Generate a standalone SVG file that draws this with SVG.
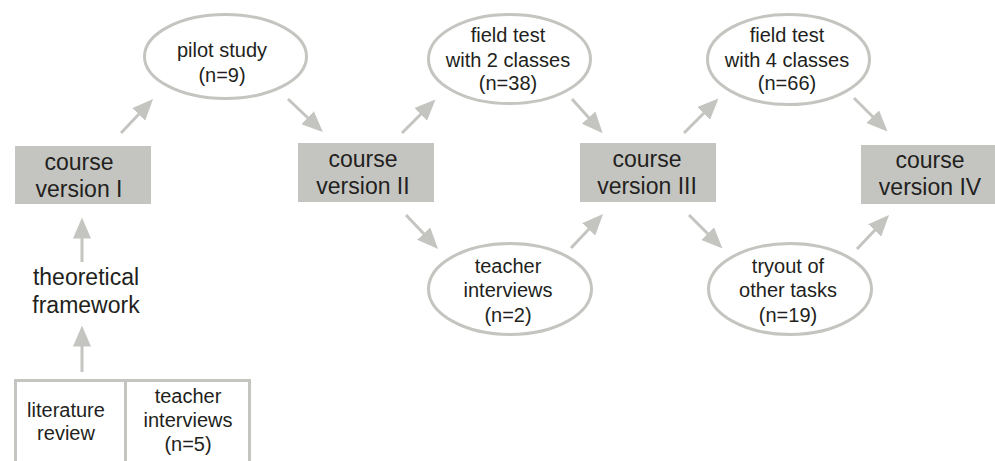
<svg xmlns="http://www.w3.org/2000/svg" width="995" height="461" viewBox="0 0 995 461">
<defs>
<style>
.box{fill:#c4c5c0;}
.ell{fill:#ffffff;stroke:#c4c5c0;stroke-width:3;}
.conn{stroke:#c4c5c0;stroke-width:3;fill:none;marker-end:url(#ah);}
.tbl{stroke:#c4c5c0;stroke-width:3;fill:none;}
text{font-family:"Liberation Sans",Arial,sans-serif;fill:#231f20;text-anchor:middle;}
.big{font-size:23px;}
.sm{font-size:20px;}
</style>
<marker id="ah" markerUnits="userSpaceOnUse" viewBox="0 -9 21 18" markerWidth="21" markerHeight="18" refX="0.5" refY="0" orient="auto">
<path d="M0,-9 L21,0 L0,9 z" fill="#c4c5c0"/>
</marker>
</defs>

<g id="connectors">
<line class="conn" x1="82" y1="262" x2="82" y2="238"/>
<line class="conn" x1="82" y1="372" x2="82" y2="346"/>
<line class="conn" x1="121" y1="133" x2="139" y2="114"/>
<line class="conn" x1="288" y1="99" x2="308" y2="118"/>
<line class="conn" x1="402" y1="133" x2="421" y2="114"/>
<line class="conn" x1="572" y1="99" x2="589" y2="118"/>
<line class="conn" x1="406" y1="215" x2="424" y2="234"/>
<line class="conn" x1="571" y1="248" x2="589" y2="229"/>
<line class="conn" x1="684" y1="133" x2="704" y2="113"/>
<line class="conn" x1="854" y1="98" x2="873" y2="117"/>
<line class="conn" x1="689" y1="215" x2="708" y2="234"/>
<line class="conn" x1="857" y1="249" x2="875" y2="230"/>
</g>

<g id="sources">
<path class="tbl" d="M15.5,461 V380.5 H249.5 V461 M125.5,380.5 V461"/>
<text class="sm" x="66" y="417">literature</text>
<text class="sm" x="66" y="440">review</text>
<text class="sm" x="188" y="403">teacher</text>
<text class="sm" x="188" y="427">interviews</text>
<text class="sm" x="188" y="451">(n=5)</text>
</g>

<g id="theoretical-framework">
<text class="big" x="86" y="285">theoretical</text>
<text class="big" x="86" y="313">framework</text>
</g>

<g id="course-v1">
<rect class="box" x="15" y="146" width="136" height="58"/>
<text class="big" x="79" y="170">course</text>
<text class="big" x="79" y="197">version I</text>
</g>

<g id="pilot-study">
<ellipse class="ell" cx="225.5" cy="56.5" rx="81" ry="42"/>
<text class="sm" x="222" y="57">pilot study</text>
<text class="sm" x="222" y="82">(n=9)</text>
</g>

<g id="course-v2">
<rect class="box" x="298" y="143" width="136" height="59"/>
<text class="big" x="363" y="167">course</text>
<text class="big" x="363" y="194">version II</text>
</g>

<g id="field-test-2">
<ellipse class="ell" cx="509.5" cy="59" rx="81" ry="44.5"/>
<text class="sm" x="508" y="42">field test</text>
<text class="sm" x="508" y="67">with 2 classes</text>
<text class="sm" x="508" y="90">(n=38)</text>
</g>

<g id="teacher-interviews">
<ellipse class="ell" cx="510" cy="289" rx="81.5" ry="45.5"/>
<text class="sm" x="508" y="273">teacher</text>
<text class="sm" x="508" y="297">interviews</text>
<text class="sm" x="508" y="322">(n=2)</text>
</g>

<g id="course-v3">
<rect class="box" x="580" y="143" width="136" height="59"/>
<text class="big" x="647" y="167">course</text>
<text class="big" x="647" y="194">version III</text>
</g>

<g id="field-test-4">
<ellipse class="ell" cx="788.5" cy="59.5" rx="81" ry="45"/>
<text class="sm" x="787" y="42">field test</text>
<text class="sm" x="787" y="67">with 4 classes</text>
<text class="sm" x="787" y="90">(n=66)</text>
</g>

<g id="tryout">
<ellipse class="ell" cx="790" cy="289" rx="81.5" ry="45.5"/>
<text class="sm" x="788" y="273">tryout of</text>
<text class="sm" x="788" y="297">other tasks</text>
<text class="sm" x="788" y="322">(n=19)</text>
</g>

<g id="course-v4">
<rect class="box" x="861" y="145" width="137" height="59"/>
<text class="big" x="930" y="168">course</text>
<text class="big" x="930" y="195">version IV</text>
</g>
</svg>
